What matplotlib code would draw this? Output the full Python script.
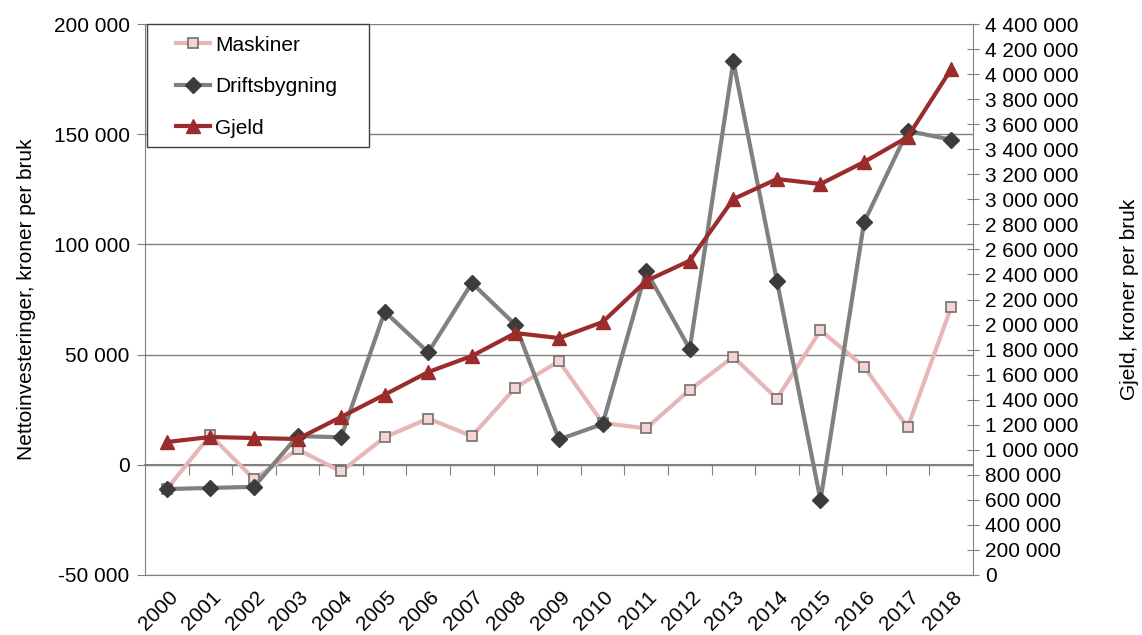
import matplotlib.pyplot as plt
import numpy as np
import matplotlib.transforms as mtrans
from matplotlib.ticker import FuncFormatter
from matplotlib.patches import Rectangle

plt.rcParams['font.family'] = ['Liberation Sans', 'DejaVu Sans']

years = [str(y) for y in range(2000, 2019)]
maskiner = [-11000, 13500, -6500, 7000, -3000, 12500, 21000, 13000, 35000, 47000,
            19000, 16500, 34000, 49000, 30000, 61000, 44500, 17000, 71500]
driftsbygning = [-11000, -10500, -10000, 13000, 12500, 69500, 51000, 82500, 63500, 11500,
                 18500, 88000, 52500, 183000, 83500, -16000, 110000, 151500, 147500]
gjeld = [1062000, 1102000, 1094000, 1086000, 1262000, 1440000, 1621000, 1749000, 1932000, 1892000,
         2020000, 2348000, 2510000, 3002000, 3162000, 3122000, 3298000, 3497000, 4040000]

GRAY = '#808080'
FS = 15
fmt = FuncFormatter(lambda v, p: f"{v:,.0f}".replace(",", " "))

fig = plt.figure(figsize=(11.42, 6.35), dpi=100)
ax = fig.add_axes([145 / 1142, 60 / 635, 828 / 1142, 551 / 635])
x = np.arange(len(years))

l1, = ax.plot(x, maskiner, color='#e8b6b6', lw=3, marker='s', ms=7,
              mfc='#f4d4d4', mec='#707070', mew=1.2, label='Maskiner', zorder=3)
l2, = ax.plot(x, driftsbygning, color=GRAY, lw=3, marker='D', ms=8,
              mfc='#3c3c3c', mec='#3c3c3c', label='Driftsbygning', zorder=4)

ax.set_xlim(-0.5, len(years) - 0.5)
ax.set_ylim(-50000, 200000)
ax.set_yticks(np.arange(-50000, 200001, 50000))
ax.yaxis.set_major_formatter(fmt)
ax.grid(axis='y', color=GRAY, lw=1)
ax.set_axisbelow(True)

# category axis crosses at zero with boundary ticks
ax.spines['bottom'].set_position(('data', 0))
ax.spines['bottom'].set_color(GRAY)
ax.spines['bottom'].set_linewidth(1.5)
ax.spines['left'].set_color(GRAY)
ax.spines['top'].set_visible(False)
ax.spines['right'].set_visible(False)
ax.set_xticks(np.arange(0.5, len(years) - 1, 1))
ax.tick_params(axis='x', direction='out', length=7, color=GRAY, labelbottom=False)
ax.tick_params(axis='y', direction='out', length=6, color=GRAY, labelsize=FS, pad=5)
ax.set_ylabel('Nettoinvesteringer, kroner per bruk', fontsize=FS, labelpad=13)

sec = ax.secondary_xaxis('bottom')
sec.set_xticks(x)
sec.set_xticklabels(years, rotation=45, ha='right', va='center',
                    rotation_mode='anchor', fontsize=FS)
sec.tick_params(length=0, pad=14)
sec.spines['bottom'].set_color(GRAY)
shift = mtrans.ScaledTranslation(8 / 100, 0, fig.dpi_scale_trans)
for t in sec.get_xticklabels():
    t.set_transform(t.get_transform() + shift)

ax2 = ax.twinx()
l3, = ax2.plot(x, gjeld, color='#9b2c2c', lw=3, marker='^', ms=10,
               mfc='#9b2c2c', mec='#9b2c2c', label='Gjeld', zorder=5)
ax2.set_ylim(0, 4400000)
ax2.set_yticks(np.arange(0, 4400001, 200000))
ax2.yaxis.set_major_formatter(fmt)
for s in ['left', 'top', 'bottom']:
    ax2.spines[s].set_visible(False)
ax2.spines['right'].set_color(GRAY)
ax2.tick_params(axis='y', direction='inout', length=9, color=GRAY, labelsize=FS, pad=4)
ax2.set_ylabel('Gjeld, kroner per bruk', fontsize=FS, labelpad=30)

# legend box (frame drawn separately for Excel-like padding)
ax2.add_patch(Rectangle((0.002, 0.777), 0.268, 0.223, transform=ax2.transAxes,
                        facecolor='white', edgecolor='#404040', lw=1, zorder=6,
                        clip_on=False))
leg = ax2.legend(handles=[l1, l2, l3], loc='upper left', bbox_to_anchor=(0.038, 0.979),
                 fontsize=FS, numpoints=1, handlelength=1.6, handletextpad=0.25,
                 labelspacing=1.08, borderpad=0, borderaxespad=0, frameon=False)
leg.set_zorder(7)

fig.savefig('out.png', dpi=100)
